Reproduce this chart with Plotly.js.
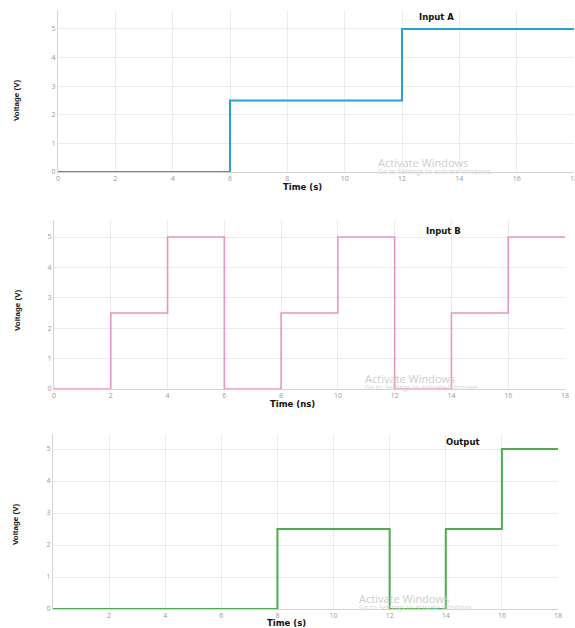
<!DOCTYPE html>
<html>
<head>
<meta charset="utf-8">
<script src="https://cdn.plot.ly/plotly-3.0.1.min.js"></script>
<style>html,body{margin:0;padding:0;background:#fff;overflow:hidden;}#chart{width:575px;height:628px;}</style>
</head>
<body>
<div id="chart"></div>
<script>
// Data
const timeA = [0, 6, 12, 18];
const voltA = [0, 2.5, 5, 5];
const timeB = [0, 2, 4, 6, 8, 10, 12, 14, 16, 18];
const voltB = [0, 2.5, 5, 0, 2.5, 5, 0, 2.5, 5, 5];
const timeOut = [0, 8, 12, 14, 16, 18];
const voltOut = [0, 2.5, 0, 2.5, 5, 5];
const xTicksA = [0, 2, 4, 6, 8, 10, 12, 14, 16];
const xTicksB = [0, 2, 4, 6, 8, 10, 12, 14, 16, 18];
const xTicksOut = [2, 4, 6, 8, 10, 12, 14, 16, 18];
const yTicks = [0, 1, 2, 3, 4, 5];
const titles = ["Input A", "Input B", "Output"];
const xTitles = ["Time (s)", "Time (ns)", "Time (s)"];
const yTitle = "Voltage (V)";

const W = 575, H = 628;
const px = v => v / W;
const py = v => 1 - v / H;

const traces = [
  {x: timeA, y: voltA, type: 'scatter', mode: 'lines', line: {shape: 'hv', color: '#27a1cf', width: 2}, xaxis: 'x', yaxis: 'y', hoverinfo: 'skip'},
  {x: timeB, y: voltB, type: 'scatter', mode: 'lines', line: {shape: 'hv', color: '#e894c4', width: 1.6}, xaxis: 'x2', yaxis: 'y2', hoverinfo: 'skip'},
  {x: timeOut, y: voltOut, type: 'scatter', mode: 'lines', line: {shape: 'hv', color: '#4cae4f', width: 2}, xaxis: 'x3', yaxis: 'y3', hoverinfo: 'skip'}
];

const tickFont = {family: 'Open Sans, sans-serif', size: 7, color: '#9a9a9a'};
function xax(dom, ticks, anchor) {
  return {domain: dom, range: [0, 18], tickvals: ticks, ticktext: ticks.map(String),
    showgrid: true, gridcolor: '#ececec', gridwidth: 1, zeroline: false,
    showline: true, linecolor: '#d4d4d4', linewidth: 1, ticks: '', tickfont: tickFont,
    anchor: anchor, fixedrange: true};
}
function yax(dom, top, anchor) {
  return {domain: dom, range: [0, top], tickvals: yTicks, ticktext: yTicks.map(String),
    showgrid: true, gridcolor: '#ececec', gridwidth: 1, zeroline: false,
    showline: true, linecolor: '#d4d4d4', linewidth: 1, ticks: '', tickfont: tickFont,
    anchor: anchor, fixedrange: true};
}

const titleFont = {family: 'DejaVu Sans, sans-serif', size: 8.5, color: '#111'};
const yFont = {family: 'Liberation Sans Narrow, Arial Narrow, Liberation Sans, sans-serif', size: 8, color: '#111'};
const wmFont = {family: 'Open Sans, sans-serif', size: 11, color: '#cdcdcd'};
const wmFont2 = {family: 'Open Sans, sans-serif', size: 7, color: '#d6d6d6'};

const ann = [];
const titlePos = [[436, 17], [443, 231], [463, 442]];
const xTitlePos = [[302, 187], [292, 404], [286, 623]];
const yTitlePos = [[17, 100], [17, 310], [15, 524]];
const wmPos = [[423, 162], [410, 378], [404, 598]];
for (let i = 0; i < 3; i++) {
  ann.push({xref: 'paper', yref: 'paper', x: px(titlePos[i][0]), y: py(titlePos[i][1]), text: '<b>' + titles[i] + '</b>', showarrow: false, font: titleFont, xanchor: 'center', yanchor: 'middle'});
  ann.push({xref: 'paper', yref: 'paper', x: px(xTitlePos[i][0]), y: py(xTitlePos[i][1]), text: '<b>' + xTitles[i] + '</b>', showarrow: false, font: titleFont, xanchor: 'center', yanchor: 'middle'});
  ann.push({xref: 'paper', yref: 'paper', x: px(yTitlePos[i][0]), y: py(yTitlePos[i][1]), text: '<b>' + yTitle + '</b>', showarrow: false, font: yFont, textangle: -90, xanchor: 'center', yanchor: 'middle'});
  ann.push({xref: 'paper', yref: 'paper', x: px(wmPos[i][0]), y: py(wmPos[i][1]), text: 'Activate Windows', showarrow: false, font: wmFont, xanchor: 'center', yanchor: 'middle'});
  ann.push({xref: 'paper', yref: 'paper', x: px(wmPos[i][0] + 12), y: py(wmPos[i][1] + 9), text: 'Go to Settings to activate Windows.', showarrow: false, font: wmFont2, xanchor: 'center', yanchor: 'middle'});
}
// last tick label of the top chart, cut by the right edge as in the reference
ann.push({xref: 'x', yref: 'paper', x: 18, y: py(178), text: String(xTicksB[xTicksB.length - 1]), showarrow: false, font: tickFont, xanchor: 'center', yanchor: 'middle'});

const layout = {
  width: W, height: H,
  margin: {l: 0, r: 0, t: 0, b: 0},
  paper_bgcolor: '#ffffff', plot_bgcolor: '#ffffff',
  showlegend: false,
  xaxis: xax([px(58), px(574)], xTicksA, 'y'),
  yaxis: yax([py(172), py(10)], 5.66, 'x'),
  xaxis2: xax([px(54), px(565)], xTicksB, 'y2'),
  yaxis2: yax([py(389), py(220)], 5.56, 'x2'),
  xaxis3: xax([px(53), px(558)], xTicksOut, 'y3'),
  yaxis3: yax([py(609), py(434)], 5.47, 'x3'),
  annotations: ann
};

Plotly.newPlot('chart', traces, layout, {displayModeBar: false, staticPlot: true});
</script>
</body>
</html>
